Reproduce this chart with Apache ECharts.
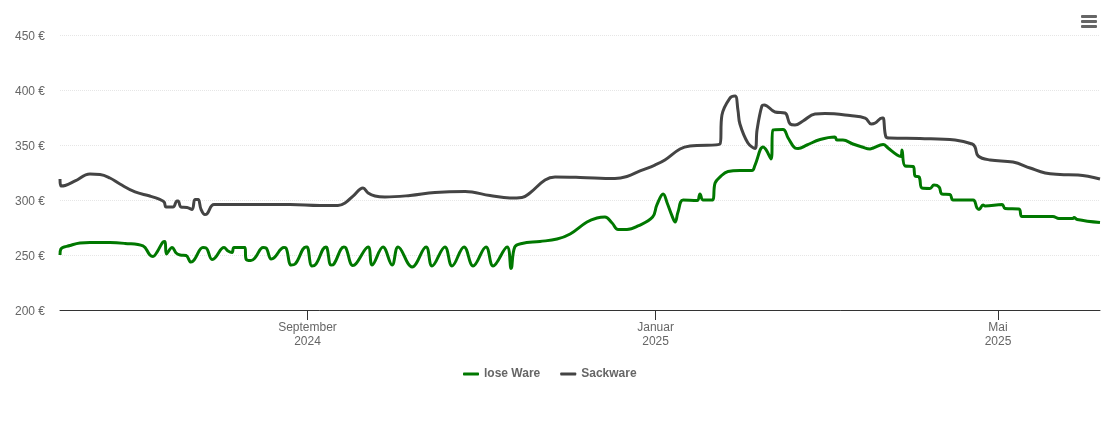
<!DOCTYPE html>
<html><head><meta charset="utf-8">
<style>html,body{margin:0;padding:0;background:#fff}#c{width:1110px;height:423px}</style>
<script src="https://cdn.jsdelivr.net/npm/echarts@6/dist/echarts.min.js"></script>
</head><body><div id="c"></div>
<script>
// x values are days since the first data point; month ticks are given in the same unit
const lastDay = 364.5;
const tickDays = [86.75, 208.75, 328.75];
const tickLabels = ['September\n2024', 'Januar\n2025', 'Mai\n2025'];
const yTicks = [200, 250, 300, 350, 400, 450];

const looseDays = [0,0.3,3.5,7,10.5,17.5,22.8,29.1,31.5,32.6,34,36.1,36.8,37.3,39.3,40.7,42.1,44.2,45.9,47,50.1,51.2,53.3,54.3,57.5,58.9,60.3,61,64.8,65.2,66.9,68.3,71.2,72.2,74,75,78.5,79.2,81,82.4,86.2,86.6,88.3,89.7,93.2,93.6,95,96,99.5,100.2,102.6,103.7,108,109.4,113.2,116.4,118.5,123.4,128.3,130.4,134.9,137.4,141.6,144.8,149.3,151.8,156.7,158.1,159.4,161.9,168.2,174.2,178.8,184.7,188.2,191,193.5,195.6,198.7,202.6,207.7,209.2,211.4,212.8,214.5,215.6,216.6,218.4,223.3,224.3,225.4,228.5,229.6,231.3,234.1,238.3,242.5,243.6,246.4,247.5,249.2,249.9,253.4,255.2,257.6,258.7,261.8,266.4,271.6,272.3,274.4,277.9,281.1,283.9,285,288.5,290.2,293.4,294.8,295.1,296.2,299,299.7,301.1,302.1,304.9,306.3,308.1,309.1,311.9,313,320,321.4,322.1,323.5,324.2,330.2,331.2,336.1,337.2,348,350.1,355,355.4,356.5,364.5];
const looseValues = [250,255.5,258.6,261,261.4,261.4,260.5,258.2,250,248.6,252.7,261.8,262.3,250.9,256.8,251.8,250,249.5,243.6,245.5,256.8,256.4,245.9,247.3,256.8,253.6,252.3,256.8,256.8,246.4,245,247.3,256.8,256.4,246.4,247.3,256.8,256.4,240.9,241.8,257.3,257.3,240,241.8,257.3,256.4,240.9,241.8,257.3,256.4,240.4,242,257.3,240.9,257.3,240.9,257.3,239.1,257.3,240,257.3,240,257.3,240,257.3,240,257.3,237.7,257.3,260.5,262.3,264.5,269.1,280,283.6,284.5,279.1,273.2,273.2,276.4,284.5,295.5,305.5,297.3,285.5,280,289.1,300,299.5,305.5,300,300,315.5,320.9,325.9,326.8,326.8,331.8,348.2,345.5,337.3,363.6,364.1,356.4,347.3,346.8,350,355,357.3,354.5,354.5,350.9,348.2,346.4,347.3,350.5,347.3,340.9,339.5,345.5,330.9,330.5,321.8,320.9,310.9,310.5,313.6,311.8,305.5,305,300,300,292.7,291.4,295.5,294.5,295.9,292.3,291.8,285,285,283.2,283.2,284.1,282.3,279.5];

const sackDays = [0,0.3,1.8,5.3,10.5,14,17.5,21,26.3,31.5,35,36.5,37.2,39.6,41,41.4,42.4,44.5,46.3,47.3,48.4,49.4,50.8,51.5,54,66.6,80.6,91.1,97.4,99.9,102.7,106.2,108,110.4,113.9,122.7,131.4,142,150.7,157.7,161.9,164.7,170,173.5,182.3,194.5,198.7,203.3,208.5,212,217.3,220.8,231.3,232,234.8,236.6,237.6,238.3,241.1,243.6,244.3,246,246.8,250.6,254.1,255.9,257.6,260.4,264.6,268.1,276.9,282.2,284.3,285.7,288.1,288.5,289.5,290.9,301.4,313.7,319.7,320.7,321.8,326,334,340,345.3,350.5,356.8,364.5];
const sackValues = [319.1,312.7,313.2,317.3,323.6,323.2,320,314.5,307.3,303.6,300.5,298.2,293.6,293.6,299.1,299.1,293.6,293.2,291.4,300.5,300.5,291.8,286.8,287.3,295.9,295.9,295.9,295,295,297.3,303.6,310.9,306.4,303.6,302.7,304.1,306.8,307.7,304.1,301.8,302.3,306.4,318.2,320.9,320.5,319.5,321.4,326.4,331.8,336.4,346.4,349.1,350.9,377.3,392.7,394.5,381.8,369.1,351.8,346.8,363.6,385.5,386.4,380,379.1,369.1,368.2,371.8,378.2,378.6,376.8,374.5,369.1,370,374.5,374.5,357.3,356.4,355.9,354.5,350.9,348.2,340,336.4,334.5,329.1,324.5,323.2,322.7,319.1];

const toPairs = (d, v) => d.map((x, i) => [x, v[i]]);
const lineSeries = (name, color, d, v) => ({
  name, type: 'line', data: toPairs(d, v), showSymbol: false, symbol: 'none',
  smooth: 0.4,
  lineStyle: { color, width: 3, join: 'round' }, itemStyle: { color }
});
const chart = echarts.init(document.getElementById('c'), null, { renderer: 'canvas' });
chart.setOption({
  animation: false,
  textStyle: { fontFamily: '"Liberation Sans", Arial, sans-serif' },
  grid: { left: 60, right: 10, top: 35, bottom: 113 },
  xAxis: {
    type: 'value', min: 0, max: lastDay,
    axisLine: { lineStyle: { color: '#333', width: 1 } },
    axisTick: { show: true, length: 10, customValues: tickDays, lineStyle: { color: '#333' } },
    axisLabel: {
      customValues: tickDays, margin: 10, color: '#666', fontSize: 12, lineHeight: 14.5,
      formatter: v => tickLabels[tickDays.indexOf(+v)] || ''
    },
    splitLine: { show: false }
  },
  yAxis: {
    type: 'value', min: yTicks[0], max: yTicks[yTicks.length - 1], interval: 50,
    axisLine: { show: false }, axisTick: { show: false },
    axisLabel: { formatter: '{value} €', color: '#666', fontSize: 12, margin: 15, verticalAlign: 'top', lineHeight: 3 },
    splitLine: { lineStyle: { color: '#e6e6e6', type: 'dotted', width: 1 } }
  },
  legend: {
    top: 368, left: 463, itemWidth: 16, itemHeight: 3, itemGap: 20, icon: 'roundRect', padding: 0,
    textStyle: { color: '#666', fontWeight: 'bold', fontSize: 12 },
    data: ['lose Ware', 'Sackware']
  },
  series: [
    lineSeries('lose Ware', '#007800', looseDays, looseValues),
    lineSeries('Sackware', '#444444', sackDays, sackValues)
  ],
  graphic: [15, 20, 25].map(y => ({
    type: 'rect', right: 13, top: y, shape: { width: 16, height: 3, r: 1 }, style: { fill: '#666' }
  }))
});
</script></body></html>
